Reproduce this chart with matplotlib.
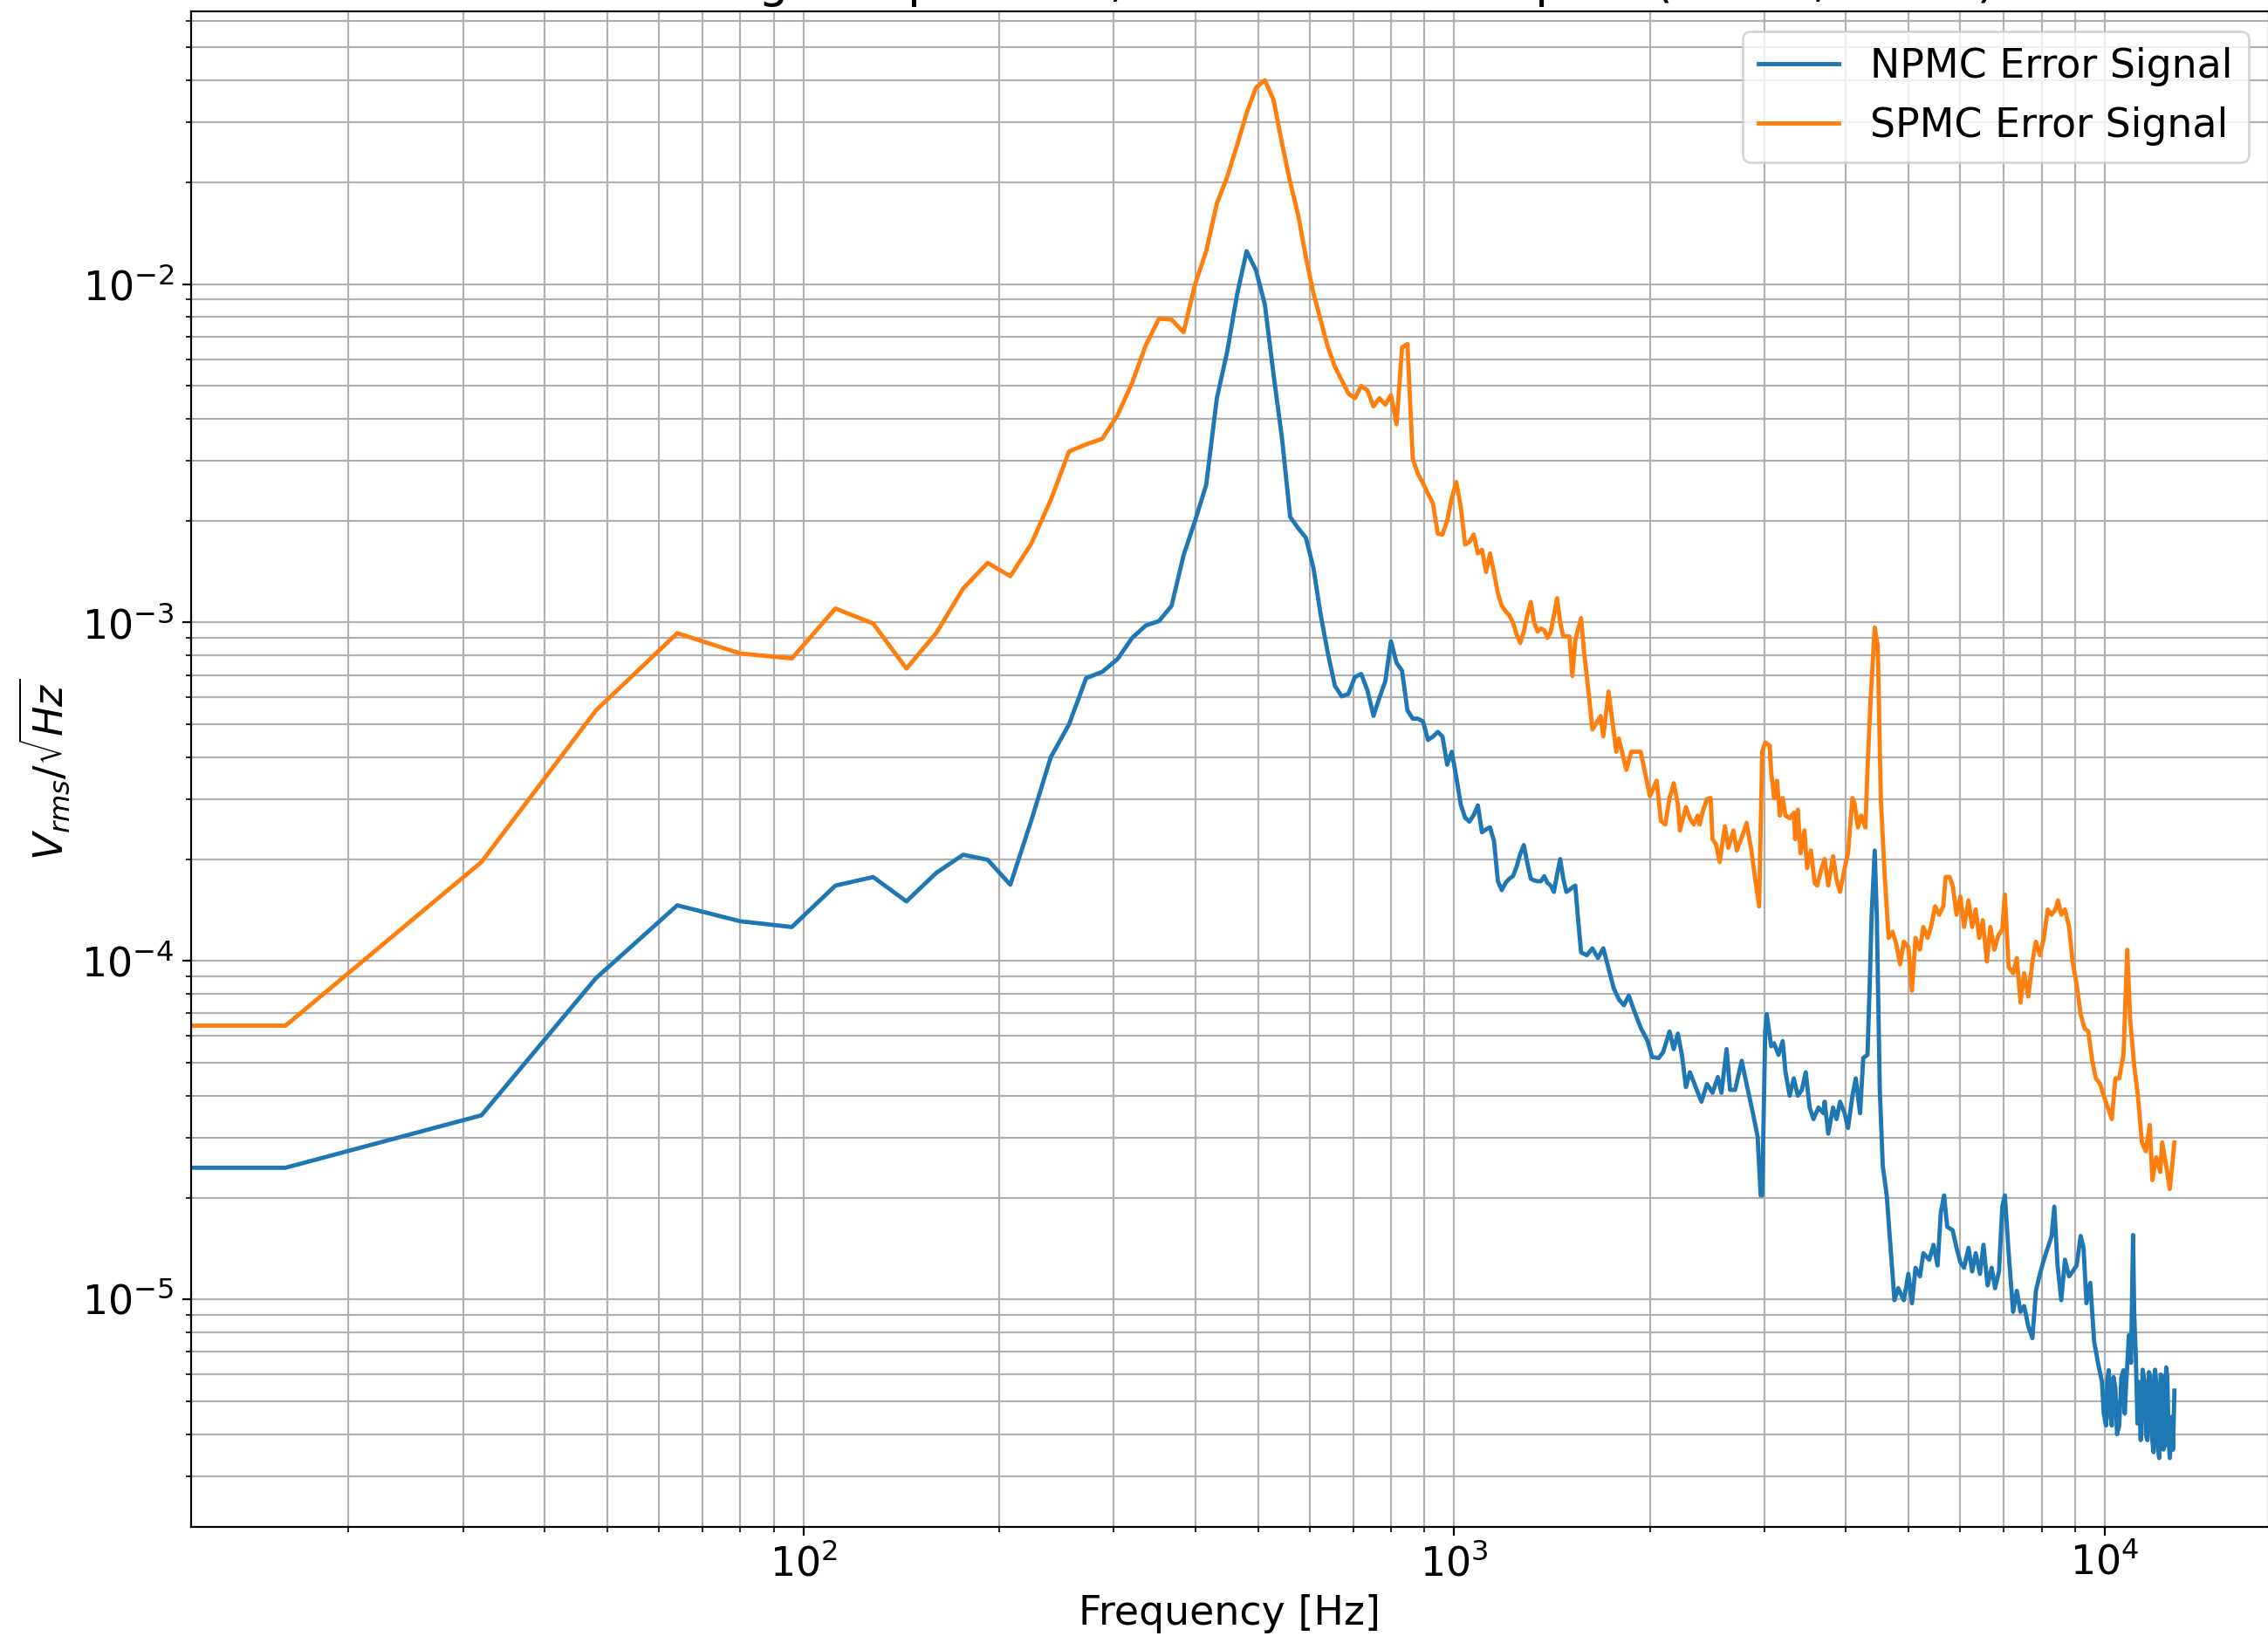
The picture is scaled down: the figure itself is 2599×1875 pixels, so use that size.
import numpy as np
import matplotlib
matplotlib.use( "Agg" )
import matplotlib.pyplot as plt

# NPMC error signal, amplitude spectral density (V/sqrt(Hz))
npmc_freq = [0, 16, 32, 48, 64, 80, 96, 112, 128, 144, 160, 176, 192, 208, 224, 240, 256, 272, 288, 304,
             320, 336, 352, 368, 384, 400, 416, 432, 448, 464, 480, 496, 512, 528, 544, 560, 576, 592, 608, 624,
             640, 656, 672, 688, 704, 720, 736, 752, 768, 784, 800, 816, 832, 848, 864, 880, 896, 912, 928, 944,
             960, 976, 992, 1008, 1024, 1040, 1056, 1072, 1088, 1104, 1120, 1136, 1152, 1168, 1184, 1200, 1216, 1232, 1248, 1264,
             1280, 1296, 1312, 1328, 1344, 1360, 1376, 1392, 1408, 1424, 1440, 1456, 1472, 1488, 1504, 1520, 1536, 1552, 1568, 1584,
             1600, 1632, 1664, 1696, 1728, 1760, 1792, 1824, 1856, 1888, 1936, 1984, 2016, 2064, 2096, 2144, 2176, 2208, 2240, 2272,
             2304, 2352, 2400, 2448, 2496, 2544, 2576, 2624, 2656, 2704, 2768, 2816, 2880, 2928, 2960, 2976, 3008, 3024, 3072, 3104,
             3152, 3200, 3232, 3280, 3328, 3376, 3424, 3472, 3520, 3568, 3632, 3696, 3712, 3760, 3824, 3872, 3920, 3984, 4032, 4096,
             4144, 4208, 4256, 4320, 4352, 4384, 4432, 4464, 4512, 4560, 4624, 4688, 4752, 4816, 4912, 4992, 5056, 5120, 5200, 5264,
             5376, 5456, 5536, 5600, 5664, 5728, 5840, 5920, 6000, 6080, 6176, 6256, 6336, 6432, 6512, 6608, 6704, 6784, 6880, 6960,
             7024, 7120, 7232, 7328, 7424, 7520, 7632, 7744, 7840, 7952, 8064, 8176, 8288, 8368, 8464, 8576, 8688, 8816, 8928, 9056,
             9184, 9280, 9376, 9504, 9632, 9776, 9904, 9968, 10048, 10096, 10144, 10208, 10256, 10320, 10384, 10448, 10528, 10608, 10688, 10736,
             10784, 10896, 10976, 11056, 11104, 11168, 11232, 11280, 11360, 11440, 11520, 11568, 11632, 11696, 11760, 11824, 11888, 11952, 12000, 12064,
             12128, 12192, 12256, 12304, 12368, 12432, 12480, 12544, 12592, 12688, 12736, 12800]
npmc_asd = [2.45e-5, 2.45e-5, 3.5e-5, 8.9e-5, 1.46e-4, 1.31e-4, 1.26e-4, 1.67e-4, 1.77e-4, 1.5e-4, 1.82e-4, 2.06e-4, 1.99e-4, 1.68e-4, 2.6e-4, 4.0e-4, 5.0e-4, 6.85e-4, 7.15e-4, 7.8e-4,
            9.0e-4, 9.8e-4, 1.01e-3, 1.12e-3, 1.58e-3, 2.0e-3, 2.55e-3, 4.6e-3, 6.3e-3, 9.3e-3, 1.25e-2, 1.1e-2, 8.7e-3, 5.4e-3, 3.5e-3, 2.05e-3, 1.9e-3, 1.78e-3, 1.45e-3, 1.05e-3,
            8.1e-4, 6.5e-4, 6.05e-4, 6.15e-4, 6.9e-4, 7.05e-4, 6.3e-4, 5.3e-4, 6.0e-4, 6.7e-4, 8.8e-4, 7.6e-4, 7.2e-4, 5.5e-4, 5.2e-4, 5.2e-4, 5.1e-4, 4.5e-4, 4.6e-4, 4.75e-4,
            4.6e-4, 3.8e-4, 4.15e-4, 3.5e-4, 2.9e-4, 2.65e-4, 2.58e-4, 2.7e-4, 2.88e-4, 2.4e-4, 2.45e-4, 2.48e-4, 2.26e-4, 1.72e-4, 1.62e-4, 1.7e-4, 1.75e-4, 1.78e-4, 1.9e-4, 2.07e-4,
            2.2e-4, 1.95e-4, 1.75e-4, 1.73e-4, 1.72e-4, 1.72e-4, 1.78e-4, 1.7e-4, 1.67e-4, 1.6e-4, 1.8e-4, 2.0e-4, 1.75e-4, 1.6e-4, 1.62e-4, 1.65e-4, 1.67e-4, 1.31e-4, 1.06e-4, 1.05e-4,
            1.04e-4, 1.09e-4, 1.02e-4, 1.09e-4, 9.5e-5, 8.3e-5, 7.7e-5, 7.4e-5, 7.9e-5, 7.2e-5, 6.35e-5, 5.8e-5, 5.2e-5, 5.17e-5, 5.38e-5, 6.19e-5, 5.49e-5, 6.1e-5, 5.28e-5, 4.24e-5,
            4.69e-5, 4.24e-5, 3.84e-5, 4.33e-5, 4.08e-5, 4.54e-5, 4.08e-5, 5.49e-5, 4.16e-5, 4.16e-5, 5.07e-5, 4.33e-5, 3.55e-5, 3.03e-5, 2.03e-5, 2.03e-5, 6.19e-5, 6.97e-5, 5.6e-5, 5.71e-5,
            5.28e-5, 5.8e-5, 4.69e-5, 4.0e-5, 4.5e-5, 4.0e-5, 4.16e-5, 4.69e-5, 3.69e-5, 3.41e-5, 3.69e-5, 3.55e-5, 3.84e-5, 3.09e-5, 3.69e-5, 3.41e-5, 3.84e-5, 3.55e-5, 3.21e-5, 4.0e-5,
            4.5e-5, 3.55e-5, 5.17e-5, 5.28e-5, 8.3e-5, 1.37e-4, 2.12e-4, 1.37e-4, 4.16e-5, 2.48e-5, 2.03e-5, 1.42e-5, 9.95e-6, 1.08e-5, 9.95e-6, 1.19e-5, 9.75e-6, 1.24e-5, 1.17e-5, 1.37e-5,
            1.31e-5, 1.45e-5, 1.26e-5, 1.81e-5, 2.03e-5, 1.64e-5, 1.6e-5, 1.42e-5, 1.29e-5, 1.24e-5, 1.42e-5, 1.21e-5, 1.37e-5, 1.19e-5, 1.45e-5, 1.1e-5, 1.24e-5, 1.08e-5, 1.21e-5, 1.88e-5,
            2.03e-5, 1.37e-5, 9.19e-6, 1.06e-5, 9.19e-6, 9.56e-6, 8.33e-6, 7.69e-6, 1.06e-5, 1.19e-5, 1.31e-5, 1.42e-5, 1.54e-5, 1.88e-5, 1.26e-5, 9.95e-6, 1.31e-5, 1.17e-5, 1.21e-5, 1.26e-5,
            1.54e-5, 1.42e-5, 9.75e-6, 1.12e-5, 7.54e-6, 6.43e-6, 5.71e-6, 4.6e-6, 4.24e-6, 5.8e-6, 6.18e-6, 4.5e-6, 4.24e-6, 5.9e-6, 5.48e-6, 4.0e-6, 4.24e-6, 5.9e-6, 6.18e-6, 4.6e-6,
            5.48e-6, 7.85e-6, 6.5e-6, 1.55e-5, 9.0e-6, 6.68e-6, 4.3e-6, 5.71e-6, 3.84e-6, 6.2e-6, 5.71e-6, 4.0e-6, 3.84e-6, 6.1e-6, 5.94e-6, 3.9e-6, 3.54e-6, 6.2e-6, 5.71e-6, 3.7e-6,
            3.4e-6, 6.0e-6, 5.94e-6, 3.6e-6, 3.69e-6, 6.3e-6, 5.94e-6, 3.8e-6, 3.4e-6, 4.5e-6, 3.6e-6, 5.38e-6]

# SPMC error signal
spmc_freq = [0, 16, 32, 48, 64, 80, 96, 112, 128, 144, 160, 176, 192, 208, 224, 240, 256, 272, 288, 304,
             320, 336, 352, 368, 384, 400, 416, 432, 448, 464, 480, 496, 512, 528, 544, 560, 576, 592, 608, 624,
             640, 656, 672, 688, 704, 720, 736, 752, 768, 784, 800, 816, 832, 848, 864, 880, 896, 912, 928, 944,
             960, 976, 992, 1008, 1024, 1040, 1056, 1072, 1088, 1104, 1120, 1136, 1152, 1168, 1184, 1200, 1216, 1232, 1248, 1264,
             1280, 1296, 1312, 1328, 1344, 1360, 1376, 1392, 1408, 1424, 1440, 1456, 1472, 1488, 1504, 1520, 1536, 1552, 1568, 1584,
             1600, 1632, 1680, 1696, 1728, 1776, 1792, 1840, 1872, 1936, 1968, 2000, 2048, 2080, 2112, 2144, 2176, 2208, 2224, 2272,
             2304, 2336, 2368, 2384, 2416, 2448, 2480, 2496, 2528, 2560, 2608, 2640, 2688, 2720, 2784, 2816, 2864, 2896, 2944, 2976,
             3008, 3056, 3072, 3104, 3136, 3168, 3200, 3232, 3280, 3328, 3344, 3376, 3408, 3456, 3488, 3536, 3584, 3616, 3664, 3712,
             3760, 3824, 3872, 3920, 3984, 4032, 4096, 4128, 4176, 4224, 4288, 4320, 4368, 4432, 4480, 4528, 4592, 4656, 4720, 4784,
             4848, 4912, 4992, 5056, 5120, 5200, 5264, 5344, 5408, 5488, 5568, 5648, 5696, 5776, 5840, 5920, 6000, 6080, 6176, 6256,
             6336, 6416, 6496, 6592, 6672, 6768, 6864, 6960, 7024, 7120, 7232, 7328, 7424, 7520, 7632, 7744, 7840, 7952, 8064, 8176,
             8288, 8400, 8480, 8576, 8688, 8816, 8928, 9056, 9184, 9312, 9440, 9568, 9696, 9840, 9968, 10112, 10256, 10384, 10528, 10688,
             10832, 10944, 11104, 11248, 11408, 11568, 11728, 11840, 12000, 12176, 12256, 12432, 12592, 12800]
spmc_asd = [6.44e-5, 6.44e-5, 1.96e-4, 5.5e-4, 9.3e-4, 8.1e-4, 7.83e-4, 1.1e-3, 9.93e-4, 7.31e-4, 9.3e-4, 1.26e-3, 1.5e-3, 1.37e-3, 1.71e-3, 2.3e-3, 3.2e-3, 3.36e-3, 3.49e-3, 4.1e-3,
            5.1e-3, 6.6e-3, 7.9e-3, 7.85e-3, 7.2e-3, 1.0e-2, 1.25e-2, 1.73e-2, 2.07e-2, 2.57e-2, 3.2e-2, 3.8e-2, 4.0e-2, 3.5e-2, 2.6e-2, 2.0e-2, 1.6e-2, 1.2e-2, 9.4e-3, 7.8e-3,
            6.5e-3, 5.7e-3, 5.2e-3, 4.75e-3, 4.6e-3, 5.0e-3, 4.85e-3, 4.35e-3, 4.6e-3, 4.4e-3, 4.7e-3, 3.85e-3, 6.5e-3, 6.65e-3, 3.05e-3, 2.75e-3, 2.58e-3, 2.4e-3, 2.25e-3, 1.83e-3,
            1.82e-3, 2.0e-3, 2.33e-3, 2.6e-3, 2.2e-3, 1.7e-3, 1.73e-3, 1.82e-3, 1.6e-3, 1.64e-3, 1.41e-3, 1.6e-3, 1.4e-3, 1.22e-3, 1.12e-3, 1.08e-3, 1.05e-3, 1.0e-3, 9.2e-4, 8.7e-4,
            9.4e-4, 1.05e-3, 1.15e-3, 1.0e-3, 9.4e-4, 9.6e-4, 9.5e-4, 9.0e-4, 9.4e-4, 1.05e-3, 1.18e-3, 1.0e-3, 9.1e-4, 9.1e-4, 9.1e-4, 6.95e-4, 8.85e-4, 9.6e-4, 1.03e-3, 8.2e-4,
            6.95e-4, 4.83e-4, 5.29e-4, 4.61e-4, 6.25e-4, 4.15e-4, 4.54e-4, 3.67e-4, 4.15e-4, 4.15e-4, 3.56e-4, 3.07e-4, 3.41e-4, 2.59e-4, 2.53e-4, 3.03e-4, 3.35e-4, 2.91e-4, 2.43e-4, 2.85e-4,
            2.64e-4, 2.53e-4, 2.69e-4, 2.53e-4, 2.8e-4, 3.01e-4, 3.03e-4, 2.29e-4, 2.21e-4, 1.96e-4, 2.5e-4, 2.16e-4, 2.43e-4, 2.12e-4, 2.39e-4, 2.56e-4, 2.12e-4, 1.81e-4, 1.45e-4, 4.16e-4,
            4.42e-4, 4.33e-4, 3.62e-4, 3.03e-4, 3.41e-4, 2.69e-4, 3.03e-4, 2.69e-4, 2.64e-4, 2.74e-4, 2.29e-4, 2.8e-4, 2.08e-4, 2.43e-4, 1.88e-4, 2.12e-4, 1.7e-4, 1.67e-4, 1.85e-4, 2.0e-4,
            1.67e-4, 2.04e-4, 1.74e-4, 1.6e-4, 1.88e-4, 2.08e-4, 3.03e-4, 2.91e-4, 2.48e-4, 2.69e-4, 2.48e-4, 3.69e-4, 5.95e-4, 9.66e-4, 8.51e-4, 3.03e-4, 1.77e-4, 1.17e-4, 1.22e-4, 1.12e-4,
            9.77e-5, 1.14e-4, 1.1e-4, 8.17e-5, 1.17e-4, 1.08e-4, 1.26e-4, 1.17e-4, 1.26e-4, 1.45e-4, 1.37e-4, 1.45e-4, 1.77e-4, 1.77e-4, 1.67e-4, 1.37e-4, 1.55e-4, 1.26e-4, 1.51e-4, 1.26e-4,
            1.42e-4, 1.17e-4, 1.32e-4, 9.96e-5, 1.26e-4, 1.08e-4, 1.19e-4, 1.24e-4, 1.57e-4, 9.58e-5, 9.2e-5, 1.02e-4, 7.54e-5, 9.2e-5, 7.85e-5, 9.96e-5, 1.14e-4, 1.04e-4, 1.17e-4, 1.42e-4,
            1.37e-4, 1.42e-4, 1.51e-4, 1.37e-4, 1.42e-4, 1.26e-4, 9.96e-5, 8.5e-5, 6.97e-5, 6.31e-5, 6.19e-5, 5.07e-5, 4.5e-5, 4.33e-5, 4.0e-5, 3.69e-5, 3.41e-5, 4.5e-5, 4.5e-5, 5.28e-5,
            1.08e-4, 6.7e-5, 4.88e-5, 4.0e-5, 2.91e-5, 2.74e-5, 3.28e-5, 2.25e-5, 2.63e-5, 2.38e-5, 2.91e-5, 2.48e-5, 2.12e-5, 2.91e-5]

plt.rcParams[ "font.size" ] = 16.5

fig = plt.figure( figsize = ( 2599 / 200, 1875 / 200 ), dpi = 200 )
axis = fig.add_axes( [ 219 / 2599, 1 - 1750 / 1875, ( 2600 - 219 ) / 2599, ( 1750 - 13 ) / 1875 ] )

axis.plot( np.array( npmc_freq ), np.array( npmc_asd ), linewidth = 1.75, label = "NPMC Error Signal" )
axis.plot( np.array( spmc_freq ), np.array( spmc_asd ), linewidth = 1.75, label = "SPMC Error Signal" )
axis.set_xscale( "log" )
axis.set_yscale( "log" )
axis.grid( True, which = "both" )
axis.set_title( "PMC Error Signal Spectrum, Locked and Sampled (NPMC, SPMC)" )
axis.set_xlabel( "Frequency [Hz]" )
axis.set_ylabel( r"$V_{rms}/\sqrt{Hz}$" )
axis.legend( loc = "upper right" )

fig.savefig( "out.png", dpi = 200 )
